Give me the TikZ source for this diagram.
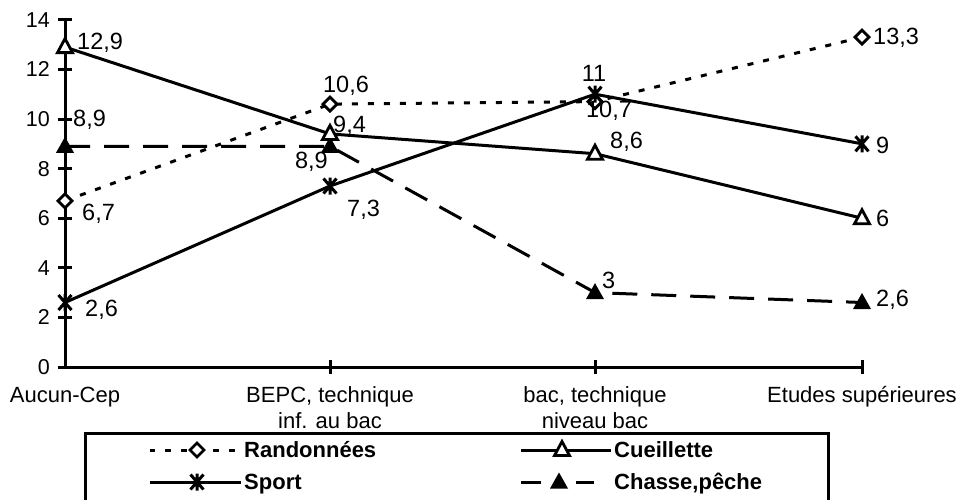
\documentclass[tikz,border=0pt]{standalone}
\usepackage{fontspec}
\setmainfont{Liberation Sans}
\begin{document}
\begin{tikzpicture}[x=1pt,y=-1pt,
  ax/.style={line width=3pt},
  ser/.style={line width=3pt,line join=round},
  rando/.style={line width=3pt,dash pattern=on 6pt off 10pt},
  chasse/.style={line width=3pt,dash pattern=on 25pt off 14pt},
  lab/.style={font=\fontsize{23.5}{27}\selectfont,inner sep=0pt,text height=16pt,text depth=0pt},
  tlab/.style={font=\fontsize{21.5}{25}\selectfont,inner sep=0pt,anchor=east,text height=15pt,text depth=0pt},
  cat/.style={font=\fontsize{22}{26}\selectfont,inner sep=0pt,text height=15.5pt,text depth=0pt},
  leg/.style={font=\bfseries\fontsize{22}{26}\selectfont,inner sep=0pt,anchor=west,text height=15.5pt,text depth=0pt},
  pics/dia/.style={code={\draw[line width=2.8pt,fill=white] (0,-7)--(7,0)--(0,7)--(-7,0)--cycle;}},
  pics/otri/.style={code={\draw[line width=2.8pt,fill=white,line join=miter] (-7.5,5.5)--(7.5,5.5)--(0,-8.5)--cycle;}},
  pics/ftri/.style={code={\fill (-9,6.5)--(9,6.5)--(0,-9.5)--cycle;}},
  pics/ast/.style={code={\draw[line width=3pt] (-6.5,-7.5)--(6.5,7.5) (-6.5,7.5)--(6.5,-7.5) (0,-8.5)--(0,8.5);}},
]
\useasboundingbox (0,0) rectangle (962,499);
\clip (0,0) rectangle (962,499);
\fill[white] (0,0) rectangle (962,499);

% axes
\coordinate (o) at (65,367);
\coordinate (ytop) at (65,20);
\coordinate (xend) at (862,367);
\draw[ax] (ytop) -- (o) -- (xend);
\foreach \v in {0,2,...,14}{
  \pgfmathsetmacro{\yy}{367-24.8*\v}
  \draw[ax] (58,\yy) -- (72,\yy);
  \node[tlab] (t\v) at (50,\yy) {\v};
}
\foreach \xx in {330,595,862}{
  \draw[ax] (\xx,360) -- (\xx,374);
}

% category labels
\node[cat] (c1) at (65,395) {Aucun-Cep};
\node[cat] (c2) at (330,395) {BEPC, technique};
\node[cat] (c2b) at (330,421) {inf. au bac};
\node[cat] (c3) at (595,395) {bac, technique};
\node[cat] (c3b) at (595,421) {niveau bac};
\node[cat] (c4) at (862,395) {Etudes supérieures};

% data points
\coordinate (r1) at (65,200.8);  \coordinate (r2) at (330,104.1);
\coordinate (r3) at (595,101.6); \coordinate (r4) at (862,37.2);
\coordinate (q1) at (65,47.1);   \coordinate (q2) at (330,133.9);
\coordinate (q3) at (595,153.7); \coordinate (q4) at (862,218.2);
\coordinate (s1) at (65,302.5);  \coordinate (s2) at (330,186);
\coordinate (s3) at (595,94.2);  \coordinate (s4) at (862,143.8);
\coordinate (h1) at (65,146.3);  \coordinate (h2) at (330,146.3);
\coordinate (h3) at (595,292.6); \coordinate (h4) at (862,302.5);

% series lines
\draw[rando] (r1) -- (r2) -- (r3) -- (r4);
\draw[ser] (q1) -- (q2) -- (q3) -- (q4);
\draw[ser] (s1) -- (s2) -- (s3) -- (s4);
\draw[chasse] (h1) -- (h2) -- (h3) -- (h4);

% markers
\foreach \p in {r1,r2,r3,r4}{\pic at (\p) {dia};}
\foreach \p in {h1,h2,h3,h4}{\pic at (\p) {ftri};}
\foreach \p in {q1,q2,q3,q4}{\pic at (\p) {otri};}
\foreach \p in {s1,s2,s3,s4}{\pic at (\p) {ast};}

% data labels
\node[lab,anchor=west] (lq1) at (77,41) {12,9};
\node[lab,anchor=west] (lh1) at (73,118) {8,9};
\node[lab,anchor=west] (lr1) at (82,212) {6,7};
\node[lab,anchor=west] (ls1) at (85,308) {2,6};
\node[lab] (lr2) at (346,84) {10,6};
\node[lab,anchor=west] (lq2) at (333,124) {9,4};
\node[lab,anchor=east] (lh2) at (328,160) {8,9};
\node[lab,anchor=west] (ls2) at (347,208) {7,3};
\node[lab] (ls3) at (594,73) {11};
\node[lab] (lr3) at (609,109) {10,7};
\node[lab,anchor=west] (lq3) at (610,140) {8,6};
\node[lab,anchor=west] (lh3) at (602,280) {3};
\node[lab,anchor=west] (lr4) at (873,36) {13,3};
\node[lab,anchor=west] (ls4) at (876,145) {9};
\node[lab,anchor=west] (lq4) at (876,218) {6};
\node[lab,anchor=west] (lh4) at (876,298) {2,6};

% legend
\coordinate (lb1) at (85,530); \coordinate (lb2) at (85,433);
\coordinate (lb3) at (828,433); \coordinate (lb4) at (828,530);
\draw[line width=3pt] (lb1) -- (lb2) -- (lb3) -- (lb4);

\coordinate (k1a) at (150,450); \coordinate (k1b) at (241,450); \coordinate (k1m) at (197,450);
\draw[rando,dash phase=1pt] (k1a) -- (k1b);
\pic at (k1m) {dia};
\node[leg] (n1) at (244,450) {Randonnées};

\coordinate (k2a) at (150,482); \coordinate (k2b) at (241,482); \coordinate (k2m) at (197,482);
\draw[ser] (k2a) -- (k2b);
\pic at (k2m) {ast};
\node[leg] (n2) at (244,482) {Sport};

\coordinate (k3a) at (521,450); \coordinate (k3b) at (611,450); \coordinate (k3m) at (562,450);
\draw[ser] (k3a) -- (k3b);
\pic at (k3m) {otri};
\node[leg] (n3) at (614,450) {Cueillette};

\coordinate (k4a) at (521,482); \coordinate (k4b) at (594,482); \coordinate (k4m) at (559,482);
\coordinate (k4c) at (541,482); \coordinate (k4d) at (576,482);
\draw[line width=3pt] (k4a) -- (k4c);
\draw[line width=3pt] (k4d) -- (k4b);
\pic at (k4m) {ftri};
\node[leg] (n4) at (614,482) {Chasse,pêche};
\end{tikzpicture}
\end{document}
